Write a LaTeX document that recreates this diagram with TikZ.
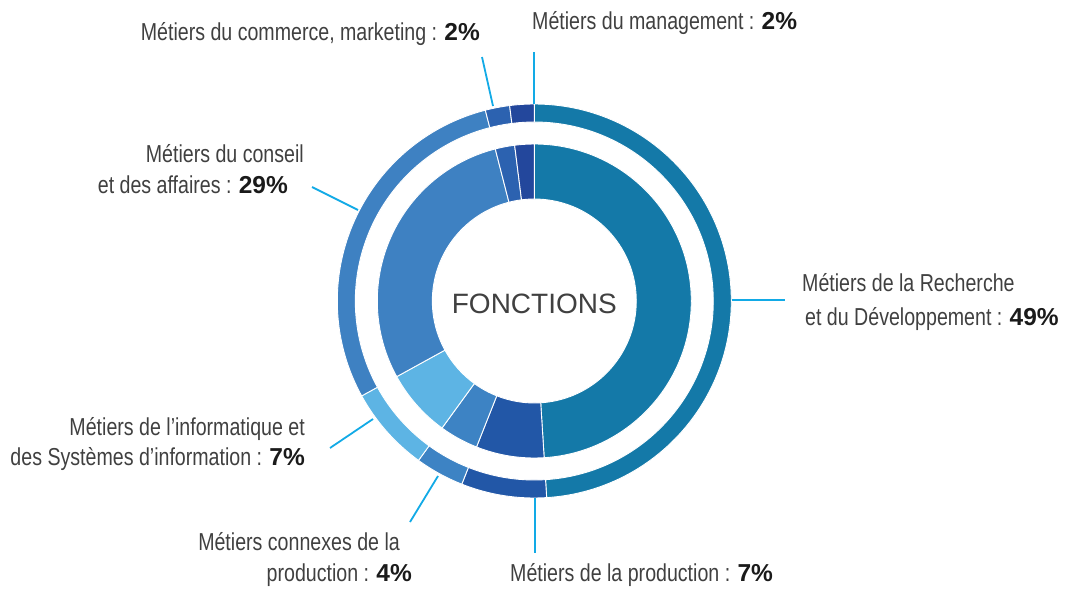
\documentclass[tikz,border=0pt]{standalone}
\usepackage{fontspec}
\setmainfont{Liberation Sans}[FakeStretch=0.80]
\newfontfamily\foncfont{Liberation Sans}
\newfontfamily\pctfont{Liberation Sans}
\definecolor{cRD}{HTML}{1479A8}
\definecolor{cProd}{HTML}{2257A7}
\definecolor{cConn}{HTML}{3D83C4}
\definecolor{cInfo}{HTML}{5DB4E4}
\definecolor{cCons}{HTML}{3E81C2}
\definecolor{cComm}{HTML}{2C62B0}
\definecolor{cMgmt}{HTML}{23479C}
\definecolor{cLead}{HTML}{12AAE6}
\definecolor{cText}{HTML}{404040}
\definecolor{cBold}{HTML}{1A1A1A}
\newcommand\donutseg[5]{%
  \fill[#1, draw=white, line width=0.9pt] (#2:#4) arc[start angle=#2, end angle=#3, radius=#4] -- (#3:#5) arc[start angle=#3, end angle=#2, radius=#5] -- cycle;}
\newcommand\pct[1]{{\pctfont\bfseries\color{cBold}#1}}
\tikzset{
  lead/.style={draw=cLead, line width=1.8pt},
  lbl/.style={inner sep=0pt, text=cText, font=\fontsize{24.5}{32}\selectfont},
}
\begin{document}
\begin{tikzpicture}[x=1pt, y=-1pt]
\useasboundingbox (0,0) rectangle (1075,589);
\begin{scope}[shift={(534.3,301)}]
  % outer ring
  \donutseg{cRD}{90}{-86.4}{197pt}{179pt}
  \donutseg{cProd}{-86.4}{-111.6}{197pt}{179pt}
  \donutseg{cConn}{-111.6}{-126}{197pt}{179pt}
  \donutseg{cInfo}{-126}{-151.2}{197pt}{179pt}
  \donutseg{cCons}{-151.2}{-255.6}{197pt}{179pt}
  \donutseg{cComm}{-255.6}{-262.8}{197pt}{179pt}
  \donutseg{cMgmt}{-262.8}{-270}{197pt}{179pt}
  % inner ring
  \donutseg{cRD}{90}{-86.4}{157pt}{102pt}
  \donutseg{cProd}{-86.4}{-111.6}{157pt}{102pt}
  \donutseg{cConn}{-111.6}{-126}{157pt}{102pt}
  \donutseg{cInfo}{-126}{-151.2}{157pt}{102pt}
  \donutseg{cCons}{-151.2}{-255.6}{157pt}{102pt}
  \donutseg{cComm}{-255.6}{-262.8}{157pt}{102pt}
  \donutseg{cMgmt}{-262.8}{-270}{157pt}{102pt}
  \node (center) at (0pt,-2.7pt) [inner sep=0pt, text=cText, font=\foncfont\fontsize{28}{32}\selectfont] {FONCTIONS};
\end{scope}

% leader lines
\coordinate (mgA) at (534,52);  \coordinate (mgB) at (534,104);
\coordinate (coA) at (482,57);  \coordinate (coB) at (493,106);
\coordinate (csA) at (312,187); \coordinate (csB) at (358,210);
\coordinate (rdA) at (732,300); \coordinate (rdB) at (785,300);
\coordinate (inA) at (330,448); \coordinate (inB) at (373,419);
\coordinate (cnA) at (410,522); \coordinate (cnB) at (438,476);
\coordinate (prA) at (535,498); \coordinate (prB) at (535,553);
\draw[lead] (mgA) -- (mgB);
\draw[lead] (coA) -- (coB);
\draw[lead] (csA) -- (csB);
\draw[lead] (rdA) -- (rdB);
\draw[lead] (inA) -- (inB);
\draw[lead] (cnA) -- (cnB);
\draw[lead] (prA) -- (prB);

% labels
\node[lbl, anchor=base west] (tMg) at (532,29.5) {Métiers du management : \pct{2\%}};
\node[lbl, anchor=base east] (tCo) at (480,40) {Métiers du commerce, marketing : \pct{2\%}};
\node[lbl, anchor=base east] (tCs1) at (304,162) {Métiers du conseil};
\node[lbl, anchor=base east] (tCs2) at (288,193.5) {et des affaires : \pct{29\%}};
\node[lbl, anchor=base west] (tRd1) at (802,291.5) {Métiers de la Recherche};
\node[lbl, anchor=base west] (tRd2) at (805,325) {et du Développement : \pct{49\%}};
\node[lbl, anchor=base east] (tIn1) at (305,435) {Métiers de l’informatique et};
\node[lbl, anchor=base east] (tIn2) at (305,465) {des Systèmes d’information : \pct{7\%}};
\node[lbl, anchor=base east] (tCn1) at (400,550) {Métiers connexes de la};
\node[lbl, anchor=base east] (tCn2) at (412,581.5) {production : \pct{4\%}};
\node[lbl, anchor=base west] (tPr) at (510,581.5) {Métiers de la production : \pct{7\%}};
\end{tikzpicture}
\end{document}
